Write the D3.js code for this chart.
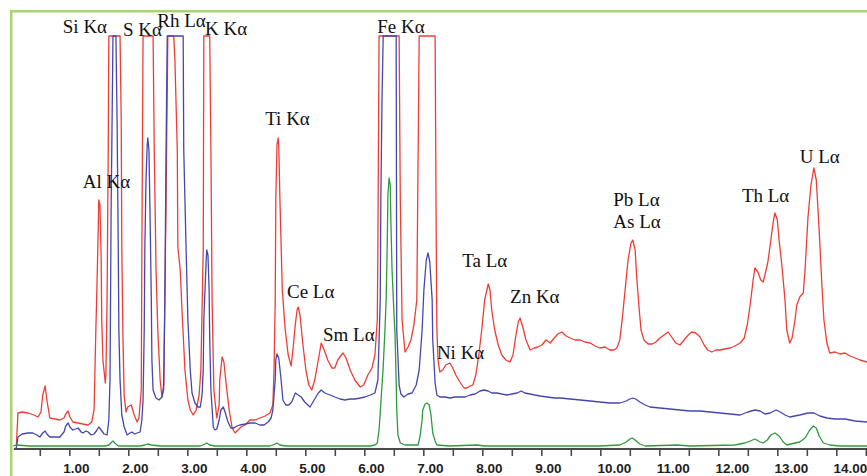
<!DOCTYPE html>
<html>
<head>
<meta charset="utf-8">
<script src="https://cdn.jsdelivr.net/npm/d3@7/dist/d3.min.js"></script>
<style>
  html, body { margin: 0; padding: 0; background: #fff; }
  svg { display: block; }
</style>
</head>
<body>
<svg id="chart" width="867" height="476"></svg>
<script>
// ---- data: energy (keV) / counts (arbitrary) ----
const redSpectrum = [
 [0.10,0],[0.13,360],[0.20,370],[0.30,360],[0.40,340],[0.47,320],[0.52,370],[0.55,540],[0.59,630],[0.62,490],
 [0.67,310],[0.76,300],[0.84,290],[0.91,310],[0.94,350],[0.98,380],[1.01,320],[1.06,270],[1.15,260],[1.23,250],
 [1.32,240],[1.38,270],[1.42,390],[1.45,1190],[1.47,1660],[1.49,2190],[1.50,2490],[1.52,2440],[1.54,1890],[1.55,1290],
 [1.57,890],[1.61,660],[1.62,740],[1.64,1490],[1.66,2990],[1.67,4800],[1.77,9800],[1.86,5600],[1.88,3290],[1.89,1990],
 [1.91,1090],[1.93,540],[1.96,370],[1.99,420],[2.05,440],[2.10,340],[2.15,270],[2.18,310],[2.22,590],[2.23,1990],
 [2.25,4500],[2.33,7000],[2.42,4400],[2.44,2990],[2.47,1790],[2.50,1190],[2.54,690],[2.57,520],[2.60,590],[2.64,2490],
 [2.67,4600],[2.72,6000],[2.77,4300],[2.79,3890],[2.83,2990],[2.84,2020],[2.88,1790],[2.91,1390],[2.96,790],[3.01,490],
 [3.05,390],[3.10,340],[3.15,390],[3.20,540],[3.23,790],[3.27,1990],[3.28,4400],[3.33,6500],[3.38,4300],[3.40,2990],
 [3.42,1490],[3.45,590],[3.50,310],[3.54,440],[3.55,690],[3.59,920],[3.62,870],[3.66,640],[3.71,390],[3.76,210],
 [3.81,160],[3.86,190],[3.91,220],[3.98,240],[4.06,290],[4.15,290],[4.23,310],[4.32,330],[4.40,360],[4.45,440],
 [4.47,790],[4.49,1490],[4.50,2490],[4.52,3040],[4.54,3110],[4.55,3040],[4.57,2490],[4.61,1590],[4.66,1190],[4.71,940],
 [4.76,830],[4.79,990],[4.83,1240],[4.86,1390],[4.88,1420],[4.91,1340],[4.96,1040],[5.01,790],[5.06,640],[5.11,590],
 [5.16,690],[5.22,890],[5.27,1060],[5.32,990],[5.38,890],[5.45,810],[5.50,810],[5.55,890],[5.61,940],[5.64,960],
 [5.69,910],[5.76,790],[5.84,690],[5.93,620],[5.99,640],[6.06,740],[6.13,810],[6.18,940],[6.22,1290],[6.23,1990],
 [6.25,5000],[6.42,30000],[6.59,5000],[6.61,2490],[6.64,1290],[6.69,970],[6.74,1020],[6.79,1090],[6.84,1240],[6.89,1490],
 [6.93,4600],[7.06,9000],[7.20,4500],[7.22,1990],[7.23,1190],[7.25,890],[7.28,770],[7.33,790],[7.38,840],[7.45,860],
 [7.50,810],[7.55,740],[7.62,670],[7.69,610],[7.74,610],[7.79,630],[7.84,640],[7.89,740],[7.94,940],[7.99,1190],
 [8.04,1490],[8.10,1650],[8.13,1590],[8.16,1390],[8.21,1190],[8.27,1040],[8.33,940],[8.40,890],[8.47,870],[8.52,940],
 [8.57,1140],[8.61,1270],[8.64,1310],[8.69,1210],[8.74,1090],[8.81,990],[8.88,1010],[8.94,1020],[9.01,1040],[9.08,1090],
 [9.15,1060],[9.22,1110],[9.28,1150],[9.35,1170],[9.42,1130],[9.49,1110],[9.57,1090],[9.66,1090],[9.74,1070],[9.83,1060],
 [9.91,1030],[9.99,1010],[10.08,1020],[10.16,990],[10.23,990],[10.28,1010],[10.33,1090],[10.37,1290],[10.42,1590],[10.47,1890],
 [10.52,2060],[10.55,2090],[10.59,1990],[10.62,1690],[10.66,1390],[10.69,1190],[10.74,1090],[10.81,1050],[10.88,1050],[10.94,1070],
 [11.01,1110],[11.08,1140],[11.15,1170],[11.22,1110],[11.28,1060],[11.35,1040],[11.42,1090],[11.49,1140],[11.55,1170],[11.62,1160],
 [11.69,1120],[11.76,1040],[11.82,990],[11.89,970],[11.96,990],[12.03,990],[12.11,1000],[12.20,1010],[12.28,1030],[12.37,1060],
 [12.44,1110],[12.49,1240],[12.54,1440],[12.59,1690],[12.62,1810],[12.67,1770],[12.72,1690],[12.76,1670],[12.79,1740],[12.84,1870],
 [12.89,2090],[12.93,2270],[12.96,2360],[13.00,2290],[13.03,2090],[13.08,1820],[13.13,1490],[13.16,1190],[13.21,1060],[13.25,1110],
 [13.30,1290],[13.33,1440],[13.38,1520],[13.44,1560],[13.47,1790],[13.52,2320],[13.57,2640],[13.62,2810],[13.66,2690],[13.69,2390],
 [13.72,2060],[13.76,1590],[13.79,1290],[13.84,1060],[13.89,960],[13.98,970],[14.06,950],[14.15,960],[14.23,930],[14.32,910],
 [14.40,890],[14.52,870]
];

const blueSpectrum = [
 [0.10,0],[0.13,120],[0.20,150],[0.30,160],[0.38,160],[0.45,140],[0.50,120],[0.55,160],[0.59,180],[0.62,150],
 [0.67,120],[0.76,120],[0.84,120],[0.91,170],[0.94,230],[0.98,260],[1.01,220],[1.06,190],[1.11,200],[1.15,210],
 [1.20,170],[1.23,160],[1.28,180],[1.32,170],[1.37,140],[1.42,150],[1.47,190],[1.50,220],[1.54,190],[1.59,150],
 [1.64,140],[1.67,290],[1.69,690],[1.71,2490],[1.72,2990],[1.74,4500],[1.77,6000],[1.79,4400],[1.81,3290],[1.83,1990],
 [1.84,1190],[1.86,690],[1.89,340],[1.93,220],[1.98,140],[2.03,160],[2.06,170],[2.11,150],[2.15,160],[2.20,170],
 [2.23,290],[2.25,490],[2.27,1190],[2.28,1990],[2.30,2690],[2.32,3040],[2.33,3110],[2.35,2990],[2.37,2290],[2.39,1490],
 [2.40,890],[2.42,590],[2.47,510],[2.52,490],[2.57,520],[2.60,640],[2.62,1490],[2.64,2990],[2.66,4500],[2.79,8000],
 [2.93,4500],[2.94,2990],[2.98,1990],[3.01,1290],[3.05,790],[3.08,560],[3.13,460],[3.18,420],[3.22,420],[3.25,540],
 [3.27,790],[3.28,1290],[3.30,1590],[3.32,1890],[3.33,1990],[3.35,1940],[3.37,1590],[3.38,1090],[3.40,590],[3.44,220],
 [3.47,190],[3.50,200],[3.54,290],[3.57,390],[3.61,420],[3.64,370],[3.69,270],[3.74,210],[3.79,210],[3.84,230],
 [3.89,240],[3.98,250],[4.06,260],[4.15,260],[4.23,240],[4.30,240],[4.37,270],[4.42,310],[4.45,390],[4.47,540],
 [4.49,690],[4.50,890],[4.52,950],[4.55,910],[4.59,690],[4.62,490],[4.67,440],[4.72,440],[4.77,470],[4.83,560],
 [4.88,540],[4.93,520],[4.99,470],[5.08,420],[5.15,490],[5.22,560],[5.27,590],[5.33,560],[5.42,540],[5.50,520],
 [5.59,500],[5.67,490],[5.76,500],[5.84,500],[5.93,510],[6.01,520],[6.10,540],[6.18,560],[6.23,690],[6.27,1490],
 [6.28,2490],[6.30,3490],[6.32,4500],[6.42,15000],[6.54,4500],[6.55,1190],[6.59,640],[6.62,550],[6.67,520],[6.74,550],
 [6.81,560],[6.88,640],[6.93,790],[6.98,1190],[7.01,1590],[7.05,1890],[7.08,1960],[7.11,1870],[7.15,1490],[7.16,1090],
 [7.20,660],[7.23,540],[7.28,520],[7.37,520],[7.45,510],[7.54,520],[7.62,520],[7.71,520],[7.79,540],[7.88,550],
 [7.96,580],[8.03,590],[8.10,580],[8.16,560],[8.25,560],[8.33,550],[8.42,540],[8.50,550],[8.59,560],[8.66,580],
 [8.72,560],[8.81,550],[8.89,540],[8.98,530],[9.10,520],[9.23,510],[9.32,510],[9.49,500],[9.66,490],[9.83,480],
 [9.99,470],[10.16,460],[10.33,460],[10.44,480],[10.50,500],[10.55,510],[10.60,500],[10.67,470],[10.76,440],[10.84,420],
 [11.01,410],[11.18,400],[11.35,390],[11.52,380],[11.69,380],[11.86,370],[12.03,360],[12.20,350],[12.37,340],[12.50,370],
 [12.62,390],[12.71,380],[12.79,350],[12.88,360],[12.98,390],[13.05,370],[13.13,340],[13.21,320],[13.38,340],[13.52,360],
 [13.62,360],[13.72,330],[13.84,310],[13.98,300],[14.15,300],[14.32,280],[14.52,270]
];

const greenSpectrum = [
 [0.05,30],[0.10,40],[0.33,30],[0.67,30],[1.01,30],[1.35,30],[1.61,30],[1.67,40],[1.72,70],[1.74,80],
 [1.77,60],[1.83,30],[2.20,30],[2.28,40],[2.33,50],[2.39,40],[2.54,30],[3.22,30],[3.30,50],[3.33,60],
 [3.38,40],[3.47,30],[4.40,30],[4.49,50],[4.52,60],[4.57,40],[4.66,30],[6.10,30],[6.18,40],[6.22,60],
 [6.25,190],[6.27,360],[6.30,640],[6.32,820],[6.35,1190],[6.37,1490],[6.39,2090],[6.40,2540],[6.42,2710],[6.44,2640],
 [6.45,2290],[6.47,1790],[6.50,1390],[6.52,1160],[6.54,690],[6.55,390],[6.57,140],[6.61,60],[6.69,40],[6.91,40],
 [6.94,110],[6.98,290],[6.99,390],[7.03,450],[7.06,460],[7.10,440],[7.13,340],[7.16,160],[7.20,80],[7.23,40],
 [7.45,30],[7.91,40],[8.04,30],[9.32,30],[9.99,30],[10.33,40],[10.44,70],[10.50,100],[10.54,110],[10.59,90],
 [10.67,50],[10.76,30],[11.30,40],[11.52,30],[12.28,40],[12.45,60],[12.54,80],[12.62,100],[12.71,70],[12.76,60],
 [12.83,90],[12.89,140],[12.96,160],[13.03,130],[13.10,70],[13.16,40],[13.30,60],[13.38,70],[13.47,110],[13.54,180],
 [13.61,230],[13.66,210],[13.71,130],[13.78,60],[13.89,40],[14.06,30],[14.52,30]
];

// peak annotations: label text, energy (keV), counts
const peakNames    = ["Si Kα","S Kα","Rh Lα","K Kα","Al Kα","Ti Kα","Ce Lα","Sm Lα","Fe Kα","Ni Kα","Ta Lα","Zn Kα","Pb Lα","As Lα","Th Lα","U Lα"];
const peakEnergies = [0.89, 1.91, 2.49, 3.30, 1.23, 4.32, 4.69, 5.30, 6.22, 7.23, 7.66, 8.47, 10.22, 10.22, 12.40, 13.38];
const peakCounts   = [4160, 4130, 4220, 4140, 2610, 3240, 1510, 1080, 4160, 900, 1820, 1460, 2430, 2210, 2470, 2860];

const tickValues = d3.range(0.5, 14.51, 0.5);
const labelValues = [1,2,3,4,5,6,7,8,9,10,11,12,13,14];

// ---- layout ----
const W = 867, H = 476;
const svg = d3.select("#chart");

const x = d3.scaleLinear().domain([0, 14.52]).range([10.3, 867]);
const y = d3.scaleLinear().domain([0, 4130]).range([449, 36]).clamp(true);
const yFree = y.copy().clamp(false);

// frame (light green)
svg.append("path")
  .attr("d", `M11.2,${H} V11.2 H${W}`)
  .attr("fill", "none")
  .attr("stroke", "#a9d46c")
  .attr("stroke-width", 2.6);

// x axis
const axis = d3.axisBottom(x)
  .tickValues(tickValues)
  .tickSize(7)
  .tickSizeOuter(0)
  .tickFormat(d => labelValues.includes(d) ? d3.format(".2f")(d) : "");

const gx = svg.append("g")
  .attr("transform", "translate(0,449)")
  .call(axis);
gx.select(".domain")
  .attr("d", `M${x(0.06)},0H${W}`)
  .attr("stroke", "#4a4a4a")
  .attr("stroke-width", 1.8);
gx.selectAll(".tick line").attr("stroke", "#4a4a4a").attr("stroke-width", 1.6);
gx.selectAll(".tick text")
  .attr("y", 14)
  .attr("dx", d => d >= 10 ? 13.5 : 6.5)
  .attr("fill", "#1e1e1e")
  .style("font-family", "'Liberation Sans', Arial, sans-serif")
  .style("font-weight", "bold")
  .style("font-size", "13.5px");

// spectra
const line = d3.line().x(d => x(d[0])).y(d => y(d[1]));
const series = [
  {data: redSpectrum, color: "#ef3d36"},
  {data: blueSpectrum, color: "#4547ad"},
  {data: greenSpectrum, color: "#2f9a3c"}
];
svg.append("g").selectAll("path")
  .data(series)
  .join("path")
  .attr("d", s => line(s.data))
  .attr("fill", "none")
  .attr("stroke", s => s.color)
  .attr("stroke-width", 1.3)
  .attr("stroke-linejoin", "round");

// peak labels
svg.append("g").selectAll("text")
  .data(peakNames)
  .join("text")
  .attr("x", (d, i) => x(peakEnergies[i]))
  .attr("y", (d, i) => yFree(peakCounts[i]))
  .attr("fill", "#111")
  .style("font-family", "'Liberation Serif', 'Times New Roman', serif")
  .style("font-size", "19px")
  .text(d => d);
</script>
</body>
</html>
